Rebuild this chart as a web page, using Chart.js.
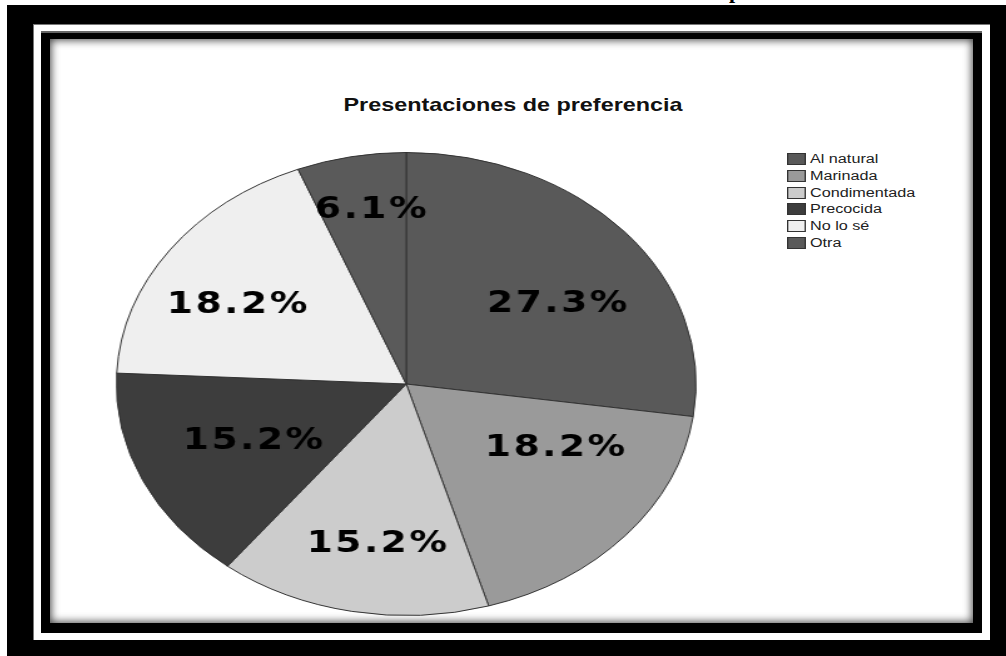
<!DOCTYPE html>
<html>
<head>
<meta charset="utf-8">
<script src="https://cdn.jsdelivr.net/npm/chart.js@4.4.1/dist/chart.umd.min.js"></script>
<style>
  html,body{margin:0;padding:0;background:#fff;}
  body{width:1006px;height:656px;position:relative;overflow:hidden;font-family:"Liberation Sans",Arial,sans-serif;}
  .abs{position:absolute;}
  #cut{left:729px;top:-22px;font:bold 22px "Liberation Serif",serif;color:#000;z-index:0;}
  #outer{left:7px;top:5px;width:999px;height:651px;background:#000;z-index:1;}
  #strip{left:33px;top:24px;width:957px;height:616px;background:#fff;border-top:1px solid #777;border-left:1px solid #777;box-sizing:border-box;z-index:2;}
  #band{left:41px;top:31px;width:941px;height:602px;background:#000;border-top:2px solid #666;box-sizing:border-box;z-index:3;}
  #inner{left:50px;top:39px;width:923px;height:584px;background:#fff;box-shadow:inset 0 0 9px 1px rgba(0,0,0,.75);z-index:4;}
  #title{left:513px;top:95px;z-index:6;white-space:nowrap;font:bold 19px "Liberation Sans",Arial,sans-serif;color:#111;line-height:19px;transform:translateX(-50%) scaleX(1.23);}
  #pieWrap{left:112px;top:149px;width:470px;height:470px;transform:scaleX(1.252);transform-origin:0 0;z-index:5;}
  #legend{left:787px;top:151px;z-index:6;transform:scaleX(1.35);transform-origin:0 0;}
  .li{height:16.7px;display:flex;align-items:center;white-space:nowrap;font:12px "Liberation Sans",Arial,sans-serif;color:#222;}
  .sw{width:14px;height:12px;border:1px solid #333;box-sizing:border-box;margin-right:3px;}
</style>
</head>
<body>
<div id="cut" class="abs">p</div>
<div id="outer" class="abs"></div>
<div id="strip" class="abs"></div>
<div id="band" class="abs"></div>
<div id="inner" class="abs"></div>
<div id="title" class="abs">Presentaciones de preferencia</div>
<div id="pieWrap" class="abs"><canvas id="c" width="470" height="470" style="width:470px;height:470px"></canvas></div>
<div id="legend" class="abs"></div>
<script>
// ---- data ----
const categories = ["Al natural", "Marinada", "Condimentada", "Precocida", "No lo sé", "Otra"];
const percentages = [27.3, 18.2, 15.2, 15.2, 18.2, 6.1];
const sliceColors = ["#595959", "#9a9a9a", "#cccccc", "#3d3d3d", "#efefef", "#5a5a5a"];

// label placement style (fraction of radius, angle shift in degrees)
const labelRadius = [0.63, 0.58, 0.69, 0.58, 0.68, 0.77];
const labelShift = [6.7, -13, -2.3, 0.4, -4.5, 1.8];

// legend (HTML)
const legend = document.getElementById('legend');
categories.forEach((c, i) => {
  const row = document.createElement('div');
  row.className = 'li';
  const sw = document.createElement('div');
  sw.className = 'sw';
  sw.style.background = sliceColors[i];
  const t = document.createElement('span');
  t.textContent = c;
  row.appendChild(sw); row.appendChild(t);
  legend.appendChild(row);
});

const labelPlugin = {
  id: 'pctLabels',
  afterDatasetsDraw(chart) {
    const ctx = chart.ctx;
    const meta = chart.getDatasetMeta(0);
    ctx.save();
    ctx.font = 'bold 30px "DejaVu Sans", sans-serif';
    ctx.fillStyle = '#000';
    ctx.textAlign = 'center';
    ctx.textBaseline = 'middle';
    try { ctx.letterSpacing = '2px'; } catch (e) {}
    meta.data.forEach((arc, i) => {
      const p = arc.getProps(['x', 'y', 'startAngle', 'endAngle', 'outerRadius'], true);
      const mid = (p.startAngle + p.endAngle) / 2 + labelShift[i] * Math.PI / 180;
      const r = p.outerRadius * labelRadius[i];
      const txt = chart.data.datasets[0].data[i].toFixed(1) + '%';
      ctx.fillText(txt, p.x + Math.cos(mid) * r + 1, p.y + Math.sin(mid) * r + 2);
    });
    ctx.restore();
  }
};

new Chart(document.getElementById('c'), {
  type: 'pie',
  data: {
    labels: categories,
    datasets: [{
      data: percentages,
      backgroundColor: sliceColors,
      borderColor: '#333333',
      borderWidth: 1
    }]
  },
  options: {
    responsive: false,
    animation: false,
    layout: { padding: 3 },
    plugins: {
      legend: { display: false },
      title: { display: false },
      tooltip: { enabled: false }
    }
  },
  plugins: [labelPlugin]
});
</script>
</body>
</html>
